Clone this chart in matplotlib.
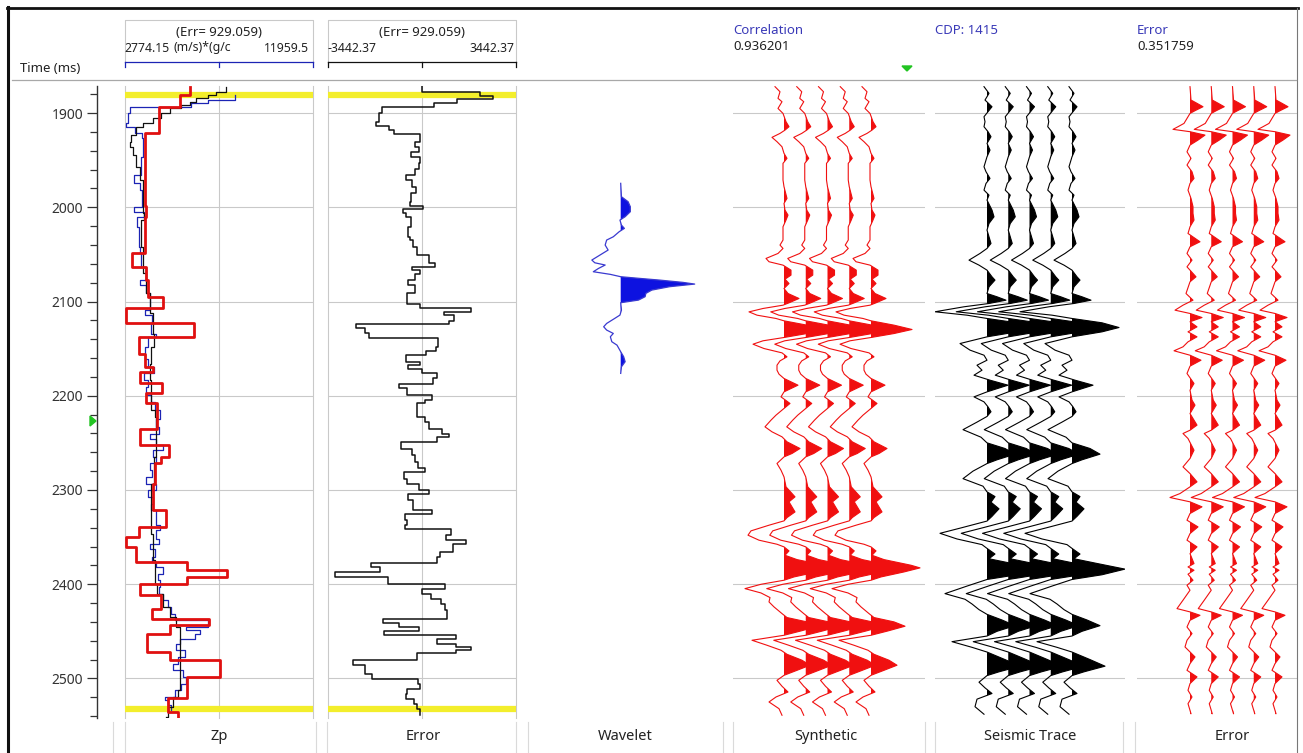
import numpy as np
import matplotlib
matplotlib.use('Agg')
import matplotlib.pyplot as plt
from matplotlib.lines import Line2D
from matplotlib.patches import Polygon

plt.rcParams['font.family'] = ['Noto Sans', 'DejaVu Sans']

# -----------------------------------------------------------------------------
# Data
# -----------------------------------------------------------------------------

T_TOP, T_BOT = 1871.3, 2542.0
HORIZONS = [1880.5, 2532.5]
TIME_MAJOR = list(range(1900, 2501, 100))
TIME_MINOR = list(range(1880, 2541, 20))

ZP_MIN, ZP_MAX = 2774.15, 11959.5
ZP_UNITS = '(m/s)*(g/c'
ERR_MAX = 3442.37
ERR_RMS = 929.059
CORRELATION = 0.936201
CDP = 1415
TRACE_ERROR = 0.351759

# inverted impedance (block layers): (top time ms, Zp)
ZP_INV = [(1872.0, 5945), (1880.9, 5457), (1893.3, 4449), (1921.6, 3782),
          (1998.7, 3831), (2010.1, 3782), (2049.0, 3132), (2063.2, 3800),
          (2077.3, 3912), (2095.0, 4644), (2107.4, 2823), (2122.6, 6140),
          (2138.2, 3473), (2155.2, 3750), (2169.3, 4156), (2174.6, 3538),
          (2187.0, 4595), (2197.6, 3799), (2207.5, 4351), (2234.8, 3538),
          (2252.5, 4920), (2264.9, 4530), (2271.9, 4238), (2293.2, 4156),
          (2321.5, 4774), (2339.2, 3457), (2349.8, 2823), (2360.4, 3343),
          (2376.3, 5831), (2385.2, 7782), (2392.3, 5831), (2400.1, 3506),
          (2411.7, 4530), (2425.9, 4124), (2436.5, 6872), (2443.6, 5002),
          (2452.4, 3864), (2471.9, 5002), (2480.0, 7408), (2498.4, 5831),
          (2520.4, 4888), (2535.6, 5376)]
ZP_INV_END = 2541.0

# well log impedance (blocked)
ZP_LOG = [(1880.9, 8172), (1886.2, 6839), (1889.7, 6026), (1893.3, 3018),
          (1900.4, 2937), (1911.0, 2823), (1914.5, 3262), (1921.6, 3636),
          (1926.9, 3668), (1946.4, 3587), (1965.8, 3213), (1974.7, 3506),
          (1981.8, 3636), (1999.4, 3213), (2004.8, 3701), (2010.1, 3376),
          (2020.7, 3473), (2041.9, 3538), (2049.0, 3587), (2063.2, 3831),
          (2077.3, 3538), (2082.6, 3831), (2091.5, 3994), (2109.2, 3750),
          (2114.5, 4124), (2123.3, 4075), (2134.0, 4319), (2137.5, 3912),
          (2148.1, 3750), (2160.5, 3912), (2169.3, 4189), (2176.4, 3701),
          (2183.5, 3912), (2190.6, 3831), (2199.4, 4075), (2206.5, 4238),
          (2215.3, 4481), (2224.2, 4286), (2233.0, 4449), (2240.1, 3994),
          (2245.4, 4319), (2252.5, 4644), (2257.8, 4156), (2264.9, 4286),
          (2271.9, 3994), (2279.0, 4124), (2286.1, 3799), (2293.2, 4286),
          (2300.3, 3912), (2307.3, 4156), (2314.4, 4075), (2321.5, 4286),
          (2328.6, 4319), (2337.4, 4481), (2342.7, 4319), (2351.6, 4449),
          (2356.9, 4027), (2362.2, 4238), (2371.0, 4124), (2376.3, 4319),
          (2381.7, 4644), (2388.7, 4400), (2395.8, 4481), (2402.9, 4449),
          (2410.0, 4644), (2417.0, 4888), (2424.1, 5051), (2431.2, 5213),
          (2438.3, 6839), (2445.4, 5782), (2448.9, 6433), (2452.4, 6189),
          (2457.7, 5457), (2463.0, 5295), (2470.1, 5701), (2477.2, 5376),
          (2484.3, 5132), (2491.4, 5620), (2498.4, 5782), (2505.5, 5538),
          (2512.6, 5213), (2519.7, 4725), (2523.2, 4888), (2528.6, 5051)]
ZP_LOG_END = 2533.9

# initial (low frequency) model
ZP_MODEL = [(1872.0, 7733), (1877.4, 7246), (1880.9, 6839), (1884.4, 6270),
            (1888.0, 5945), (1891.5, 5538), (1895.1, 4969), (1900.4, 4563),
            (1905.7, 4156), (1911.0, 3668), (1914.5, 3343), (1923.4, 3099),
            (1930.4, 3050), (1935.8, 3181), (1944.6, 3343), (1957.0, 3506),
            (1971.1, 3668), (2006.5, 3701), (2013.6, 3587), (2041.9, 3668),
            (2070.2, 3831), (2091.5, 3994), (2112.7, 4156), (2134.0, 4189),
            (2148.1, 4075), (2165.8, 3994), (2183.5, 4075), (2215.3, 4238),
            (2222.4, 4319), (2240.1, 4286), (2264.9, 4205), (2293.2, 4075),
            (2321.5, 4075), (2346.3, 4156), (2374.6, 4238), (2399.3, 4351),
            (2410.0, 4644), (2424.1, 4969), (2434.7, 5295), (2445.4, 5490),
            (2470.1, 5490), (2498.4, 5457), (2512.6, 5376), (2519.7, 5132),
            (2530.3, 4888), (2541.0, 4807)]

# impedance error
ERR = [(1870.3, 0), (1877.4, 2135), (1882.0, 2589), (1885.5, 1301),
       (1889.7, 442), (1894.0, -1460), (1900.4, -1546), (1909.2, -1681),
       (1913.8, -1178), (1918.1, -1031), (1922.3, -49), (1930.4, -233),
       (1935.8, -110), (1941.1, -380), (1947.1, -49), (1952.7, -110),
       (1959.8, -233), (1965.8, -577), (1971.1, -356), (1978.2, -196),
       (1985.3, -380), (1994.1, -417), (1998.7, 37), (2002.3, -699),
       (2005.8, -577), (2010.8, -380), (2020.7, -515), (2031.3, -417),
       (2034.8, -319), (2041.9, -172), (2050.8, 258), (2059.6, 479),
       (2063.9, -356), (2066.7, -49), (2070.9, -233), (2077.3, -503),
       (2082.6, -233), (2091.5, -540), (2102.8, -49), (2107.4, 1816),
       (2110.9, 810), (2114.5, 1178), (2120.5, 994), (2124.0, -2405),
       (2128.6, -2074), (2133.9, -1914), (2139.2, 601), (2148.1, 503),
       (2152.3, 160), (2157.0, -564), (2164.0, -49), (2167.6, -503),
       (2171.1, 12), (2176.4, 564), (2181.7, 417), (2187.7, -847),
       (2192.3, -540), (2199.4, 380), (2204.7, 135), (2208.2, -172),
       (2222.4, 110), (2227.7, 258), (2234.8, 748), (2240.1, 994),
       (2243.6, 564), (2248.9, -748), (2256.0, -356), (2263.1, -258),
       (2270.2, -135), (2277.2, 110), (2280.8, -663), (2287.9, -540),
       (2293.2, -110), (2300.3, 282), (2304.5, -503), (2310.9, -331),
       (2321.5, 380), (2325.7, -601), (2332.1, -540), (2337.4, -601),
       (2341.0, 1055), (2348.0, 871), (2353.3, 1607), (2357.6, 1141),
       (2365.7, 650), (2371.0, 564), (2377.4, -1853), (2381.7, -1521),
       (2387.0, -3178), (2392.3, -1215), (2399.3, 847), (2404.7, 12),
       (2410.0, 356), (2416.0, 687), (2421.3, 847), (2427.0, 933),
       (2436.5, -1399), (2441.1, -847), (2445.4, -110), (2449.6, -1362),
       (2454.2, 1239), (2457.7, 564), (2463.0, 1239), (2466.6, 1791),
       (2469.4, 1239), (2473.0, -172), (2480.7, -2528), (2486.0, -2074),
       (2494.9, -1828), (2500.2, -135), (2505.5, -49), (2510.8, -540),
       (2516.1, -577), (2521.4, -294), (2526.8, -172), (2532.1, -49)]
ERR_END = 2539.1

# extracted wavelet: (lag ms, normalised amplitude)
WAVELET_T0 = 2081.5
WAVELET = [(-106.9, 0.0), (-92.7, 0.01), (-87.4, 0.10), (-82.1, 0.13),
           (-76.8, 0.13), (-71.5, 0.06), (-67.9, -0.01), (-62.6, 0.01),
           (-59.1, 0.05), (-55.6, -0.02), (-50.2, -0.10), (-46.7, -0.19),
           (-41.4, -0.21), (-36.1, -0.17), (-30.8, -0.28), (-25.5, -0.39),
           (-22.6, -0.35), (-20.2, -0.21), (-16.6, -0.30), (-13.1, -0.37),
           (-10.3, -0.14), (-7.8, 0.0), (-6.0, 0.26), (-4.2, 0.53),
           (-1.8, 0.84), (0.0, 1.0), (2.8, 0.66), (6.4, 0.42), (9.9, 0.34),
           (13.4, 0.33), (17.0, 0.24), (19.8, 0.0), (27.6, 0.01),
           (32.9, -0.01), (36.4, -0.08), (41.8, -0.19), (45.3, -0.23),
           (48.8, -0.19), (52.4, -0.10), (55.9, -0.14), (61.2, -0.12),
           (64.8, -0.05), (71.8, 0.0), (77.1, 0.04), (82.4, 0.06),
           (87.8, 0.01), (94.8, 0.0)]

# synthetic trace: (time ms, amplitude)
SYNTHETIC = [(1872.0, -9), (1877.4, -4), (1884.4, -6), (1888.0, -2),
             (1895.1, -6), (1900.4, -1), (1909.2, 2), (1914.5, 5),
             (1918.1, 1), (1921.6, -4), (1925.8, -12), (1930.4, -7),
             (1935.8, -2), (1942.8, 0), (1948.1, 3), (1953.4, -1),
             (1971.1, -1), (1978.2, 0), (1990.6, 3), (1995.9, 0),
             (2003.0, 1), (2008.3, 4), (2013.6, 2), (2020.7, -1),
             (2034.8, -1), (2040.1, -4), (2043.7, -1), (2049.0, -6),
             (2054.3, -18), (2057.8, -15), (2061.4, -1), (2066.7, 7),
             (2072.0, 7), (2076.3, 1), (2080.9, 5), (2086.2, 0),
             (2091.5, 4), (2096.8, 15), (2101.4, 5), (2103.9, -1),
             (2107.4, -21), (2111.0, -35), (2114.5, -27), (2118.0, -8),
             (2120.5, 0), (2125.1, 23), (2129.7, 41), (2134.0, 23),
             (2138.2, 0), (2141.7, -21), (2145.3, -31), (2149.9, -20),
             (2154.5, -2), (2158.7, 3), (2163.0, -4), (2167.6, -7),
             (2172.9, -7), (2177.1, -5), (2181.7, 0), (2188.8, 14),
             (2195.9, 0), (2201.2, -3), (2208.2, 6), (2213.5, 0),
             (2220.6, -8), (2225.9, -13), (2233.0, -19), (2238.3, -12),
             (2243.6, -2), (2248.9, 3), (2256.0, 16), (2261.3, 8),
             (2264.9, 0), (2271.9, -7), (2279.0, -3), (2286.1, 0),
             (2296.7, 2), (2307.3, 11), (2312.6, 5), (2323.3, 11),
             (2329.3, 3), (2332.8, 0), (2337.4, -15), (2343.4, -33),
             (2348.0, -36), (2353.3, -25), (2357.6, -7), (2360.4, 0),
             (2364.7, 5), (2369.3, 1), (2373.9, 13), (2379.9, 40),
             (2382.7, 49), (2387.0, 33), (2392.3, 10), (2395.8, 0),
             (2400.1, -23), (2404.7, -39), (2409.3, -23), (2414.2, -14),
             (2418.8, -15), (2424.1, -10), (2431.2, -2), (2435.4, 3),
             (2440.0, 23), (2444.6, 34), (2449.6, 17), (2454.2, 0),
             (2459.5, -32), (2464.8, -17), (2470.1, -3), (2474.4, 3),
             (2480.7, 18), (2486.0, 26), (2491.4, 13), (2496.7, 0),
             (2502.0, -7), (2508.3, -2), (2514.4, 4), (2519.7, -8),
             (2525.0, -15), (2532.1, -5), (2539.1, -2)]

# recorded seismic trace at the well
SEISMIC = [(1872.0, -3), (1879.1, 2), (1886.2, -2), (1893.3, 5),
           (1898.6, 1), (1903.9, -3), (1909.2, -2), (1914.5, -3),
           (1919.8, 1), (1925.1, 4), (1932.2, 0), (1939.3, 3),
           (1946.4, 0), (1957.0, -3), (1962.3, -1), (1969.4, 3),
           (1974.7, -1), (1981.8, -3), (1987.1, 2), (1992.4, 0),
           (2003.0, 5), (2010.1, 7), (2017.2, 2), (2024.2, 0),
           (2031.3, 2), (2038.4, 4), (2043.7, 0), (2049.0, -7),
           (2056.1, -18), (2061.4, -8), (2066.7, 0), (2073.8, 5),
           (2077.3, 8), (2084.4, 2), (2091.5, 0), (2095.0, 10),
           (2098.6, 19), (2102.1, 2), (2105.6, -23), (2110.9, -52),
           (2114.5, -20), (2118.0, 0), (2122.6, 30), (2127.6, 47),
           (2132.2, 30), (2137.5, 0), (2144.6, -27), (2151.6, -17),
           (2157.0, -3), (2162.3, 0), (2167.6, -10), (2172.9, -5),
           (2178.2, -13), (2183.5, 3), (2188.8, 21), (2195.9, 0),
           (2201.2, -13), (2206.5, -3), (2211.8, 1), (2217.0, 4),
           (2222.0, 0), (2228.0, -10), (2236.0, -24), (2244.0, -6),
           (2250.0, 0), (2256.0, 18), (2262.0, 28), (2268.0, 10),
           (2272.0, 0), (2280.0, -14), (2288.0, -24), (2296.0, -4),
           (2302.0, 0), (2307.0, 8), (2313.0, 4), (2320.0, 12),
           (2328.0, 5), (2333.0, 0), (2340.0, -25), (2346.0, -47),
           (2352.0, -30), (2358.0, -5), (2362.0, 0), (2368.0, 8),
           (2373.0, 2), (2378.0, 25), (2384.0, 53), (2390.0, 30),
           (2395.0, 0), (2402.0, -20), (2410.0, -42), (2416.0, -22),
           (2421.0, -15), (2427.0, -8), (2432.0, 0), (2438.0, 15),
           (2444.0, 28), (2450.0, 10), (2455.0, 0), (2461.0, -35),
           (2467.0, -15), (2472.0, 0), (2480.0, 18), (2487.0, 33),
           (2493.0, 12), (2497.0, 0), (2504.0, -8), (2510.0, -2),
           (2516.0, 5), (2522.0, -10), (2530.0, -12), (2538.0, -3)]

# seismic minus synthetic
RESIDUAL = [(1872.0, 0), (1886.2, 1), (1889.7, 7), (1893.3, 13),
            (1897.5, 5), (1900.4, 0), (1905.7, -3), (1911.0, -6),
            (1914.5, -12), (1917.3, -17), (1919.8, 0), (1923.4, 15),
            (1928.7, 8), (1934.0, 0), (1941.1, -3), (1948.1, 1),
            (1955.2, -3), (1962.3, 2), (1969.4, 4), (1974.7, 0),
            (1981.8, -2), (1990.6, 1), (1999.4, 3), (2006.5, 3),
            (2013.6, 4), (2020.7, 0), (2027.8, -2), (2036.6, 10),
            (2041.9, 0), (2049.0, -3), (2056.1, 2), (2063.2, -3),
            (2073.8, 6), (2079.1, 0), (2091.5, -4), (2098.6, 3),
            (2103.9, -7), (2109.2, -15), (2112.7, 0), (2117.0, 12),
            (2121.5, 0), (2126.9, 7), (2132.2, -2), (2137.5, 7),
            (2142.8, -2), (2148.1, -7), (2152.3, -16), (2157.0, 0),
            (2162.3, 11), (2168.6, 0), (2176.4, -3), (2187.0, 4),
            (2194.1, 0), (2204.7, 2), (2210.0, 5), (2218.9, 0),
            (2231.2, 7), (2236.6, 0), (2240.1, -7), (2245.4, -2),
            (2257.8, 4), (2266.6, 0), (2275.5, -7), (2282.6, 0),
            (2291.4, 7), (2296.7, 0), (2303.8, -10), (2308.0, -20),
            (2312.6, 0), (2317.9, 12), (2325.0, 0), (2332.1, -3),
            (2339.2, 8), (2346.3, 0), (2353.3, -3), (2360.4, 7),
            (2367.5, 0), (2378.1, 4), (2381.7, -2), (2385.2, 4),
            (2389.4, -2), (2395.8, 3), (2401.1, -3), (2406.4, 0),
            (2417.0, -7), (2425.9, -13), (2429.4, 0), (2433.0, 10),
            (2438.3, 0), (2445.4, -3), (2452.4, 2), (2459.5, -3),
            (2466.6, -5), (2477.2, 5), (2484.3, 0), (2491.4, -3),
            (2498.4, 7), (2505.5, 0), (2512.6, -2), (2519.7, 2),
            (2526.8, -2), (2537.4, 1)]

PANEL_LABELS = ['Zp', 'Error', 'Wavelet', 'Synthetic', 'Seismic Trace', 'Error']

# -----------------------------------------------------------------------------
# Styling
# -----------------------------------------------------------------------------

W, H = 1303, 753
DATA_TOP, DATA_BOT = 86, 718
GRID = '#c9c9c9'
YELLOW = '#f3ee2c'
RED = '#e01010'
NAVY = '#1c24b4'
TEXT_BLUE = '#3a3ab8'
TEXT = '#222222'
FS = 9.5
N_TRACES = 5

fig = plt.figure(figsize=(W / 100, H / 100), dpi=100)


def px_axes(x0, x1):
    ax = fig.add_axes([x0 / W, 1 - DATA_BOT / H, (x1 - x0) / W,
                       (DATA_BOT - DATA_TOP) / H])
    ax.set_ylim(T_BOT, T_TOP)
    ax.axis('off')
    return ax


def fline(xs, ys, **kw):
    fig.add_artist(Line2D([x / W for x in xs], [1 - y / H for y in ys], **kw))


def ftext(x, y, s, **kw):
    kw.setdefault('fontsize', FS)
    kw.setdefault('color', TEXT)
    kw.setdefault('va', 'center')
    fig.text(x / W, 1 - y / H, s, **kw)


def steps(pairs, end):
    t, v = np.array(pairs, dtype=float).T
    edges = np.append(t, end)
    return np.repeat(v, 2), np.repeat(edges, 2)[1:-1]


def draw_traces(ax, pairs, base0, spacing, color, lw=0.8):
    t, a = np.array(pairs, dtype=float).T
    for i in range(N_TRACES):
        base = base0 + i * spacing
        ax.fill_betweenx(t, base, base + a, where=a > 0, interpolate=True,
                         color=color, lw=0)
        ax.plot(base + a, t, color=color, lw=lw)


def time_grid(ax):
    for t in TIME_MAJOR:
        ax.axhline(t, color=GRID, lw=0.8, zorder=0)


# --- frame and header ---
fline([7.5, 7.5], [7, 753], color='#111111', lw=2.2)
fline([7, 1298], [7.5, 7.5], color='#111111', lw=2.0)
fline([1297, 1297], [8, 753], color='#777777', lw=0.8)
fline([12, 1296], [79.5, 79.5], color='#a8a8a8', lw=0.9)

ftext(20, 68, 'Time (ms)')

# header boxes with scale brackets
for (x0, x1, col) in [(124.5, 313, NAVY), (327.5, 516, '#111111')]:
    fline([x0, x0, x1, x1], [61, 20, 20, 61], color=GRID, lw=0.8)
    fline([x0, x1], [61.5, 61.5], color=col, lw=0.9)
    for xm in (x0, (x0 + x1) / 2, x1):
        fline([xm, xm], [61.5, 67], color=col, lw=0.9)
    ftext((x0 + x1) / 2, 33, '(Err= {:.3f})'.format(ERR_RMS), ha='center')

ftext(124, 48, '{:.2f}'.format(ZP_MIN), fontsize=8.8)
ftext(173, 48, ZP_UNITS, fontsize=8.8)
ftext(309, 48, '{:.1f}'.format(ZP_MAX), fontsize=8.8, ha='right')
ftext(328, 48, '{:.2f}'.format(-ERR_MAX), fontsize=8.8)
ftext(515, 48, '{:.2f}'.format(ERR_MAX), fontsize=8.8, ha='right')

ftext(733, 31, 'Correlation', color=TEXT_BLUE)
ftext(733, 47, '{:.6f}'.format(CORRELATION))
ftext(935, 31, 'CDP: {}'.format(CDP), color=TEXT_BLUE)
ftext(1137, 31, 'Error', color=TEXT_BLUE)
ftext(1137, 47, '{:.6f}'.format(TRACE_ERROR))

fig.add_artist(Polygon([(902 / W, 1 - 66 / H), (912 / W, 1 - 66 / H),
                        (907 / W, 1 - 71 / H)], closed=True,
                       color='#22c422', transform=fig.transFigure))

# --- bottom label strip ---
for x in [113, 125, 316, 327, 516, 528, 723, 733, 925, 935, 1123, 1135]:
    fline([x, x], [722, 753], color='#dadada', lw=0.8)
centers = [219, 423, 625, 826, 1030, 1232]
for cx, name in zip(centers, PANEL_LABELS):
    ftext(cx, 737, name, ha='center', fontsize=10.5)

# --- time axis ---
ax_t = fig.add_axes([97 / W, 1 - DATA_BOT / H, 1 / W, (DATA_BOT - DATA_TOP) / H])
ax_t.set_ylim(T_BOT, T_TOP)
ax_t.set_xticks([])
for side in ['top', 'right', 'bottom']:
    ax_t.spines[side].set_visible(False)
ax_t.spines['left'].set_color('#333333')
ax_t.spines['left'].set_linewidth(1.0)
ax_t.patch.set_visible(False)
ax_t.set_yticks(TIME_MAJOR)
ax_t.set_yticks(TIME_MINOR, minor=True)
ax_t.tick_params(axis='y', which='major', length=7, width=0.9, pad=3,
                 labelsize=10, colors='#333333')
ax_t.tick_params(axis='y', which='minor', length=5, width=0.9,
                 colors='#333333')
fig.add_artist(Polygon([(90 / W, 1 - 416 / H), (90 / W, 1 - 426 / H),
                        (96 / W, 1 - 421 / H)], closed=True,
                       color='#22c422', transform=fig.transFigure))

# --- Zp panel ---
ax_zp = px_axes(124.5, 313)
ax_zp.set_xlim(ZP_MIN, ZP_MAX)
time_grid(ax_zp)
for x in (ZP_MIN, (ZP_MIN + ZP_MAX) / 2, ZP_MAX):
    ax_zp.axvline(x, color=GRID, lw=0.8, zorder=0, clip_on=False)
for t in HORIZONS:
    ax_zp.axhline(t, color=YELLOW, lw=4.5, zorder=1)
x, y = steps(ZP_LOG, ZP_LOG_END)
ax_zp.plot(x, y, color=NAVY, lw=0.9, zorder=2)
t, v = np.array(ZP_MODEL, dtype=float).T
ax_zp.plot(v, t, color='#111111', lw=0.9, drawstyle='steps-pre', zorder=3)
x, y = steps(ZP_INV, ZP_INV_END)
ax_zp.plot(x, y, color=RED, lw=2.0, zorder=4)

# --- impedance error panel ---
ax_er = px_axes(327.5, 516)
ax_er.set_xlim(-ERR_MAX, ERR_MAX)
time_grid(ax_er)
for x in (-ERR_MAX, 0, ERR_MAX):
    ax_er.axvline(x, color=GRID, lw=0.8, zorder=0, clip_on=False)
for t in HORIZONS:
    ax_er.axhline(t, color=YELLOW, lw=4.5, zorder=1)
x, y = steps(ERR, ERR_END)
ax_er.plot(x, y, color='#111111', lw=1.1, zorder=3)

# --- wavelet panel ---
ax_wv = px_axes(528, 723)
ax_wv.set_xlim(528, 723)
lag, amp = np.array(WAVELET, dtype=float).T
wt = WAVELET_T0 + lag
wx = 620.7 + 74 * amp
ax_wv.fill_betweenx(wt, 620.7, wx, where=amp > 0, interpolate=True,
                    color='#0d12e0', lw=0)
ax_wv.plot(wx, wt, color='#3a3ad0', lw=0.9)

# --- synthetic, seismic and residual panels ---
for (x0, x1, pairs, base0, spacing, color) in [
        (733, 925, SYNTHETIC, 784, 21.75, '#f01010'),
        (935, 1125, SEISMIC, 987, 21.25, '#000000'),
        (1137, 1297, RESIDUAL, 1190, 21.25, '#f01010')]:
    ax = px_axes(x0, x1)
    ax.set_xlim(x0, x1)
    time_grid(ax)
    draw_traces(ax, pairs, base0, spacing, color)

fig.savefig('out.png', dpi=100, facecolor='white')
